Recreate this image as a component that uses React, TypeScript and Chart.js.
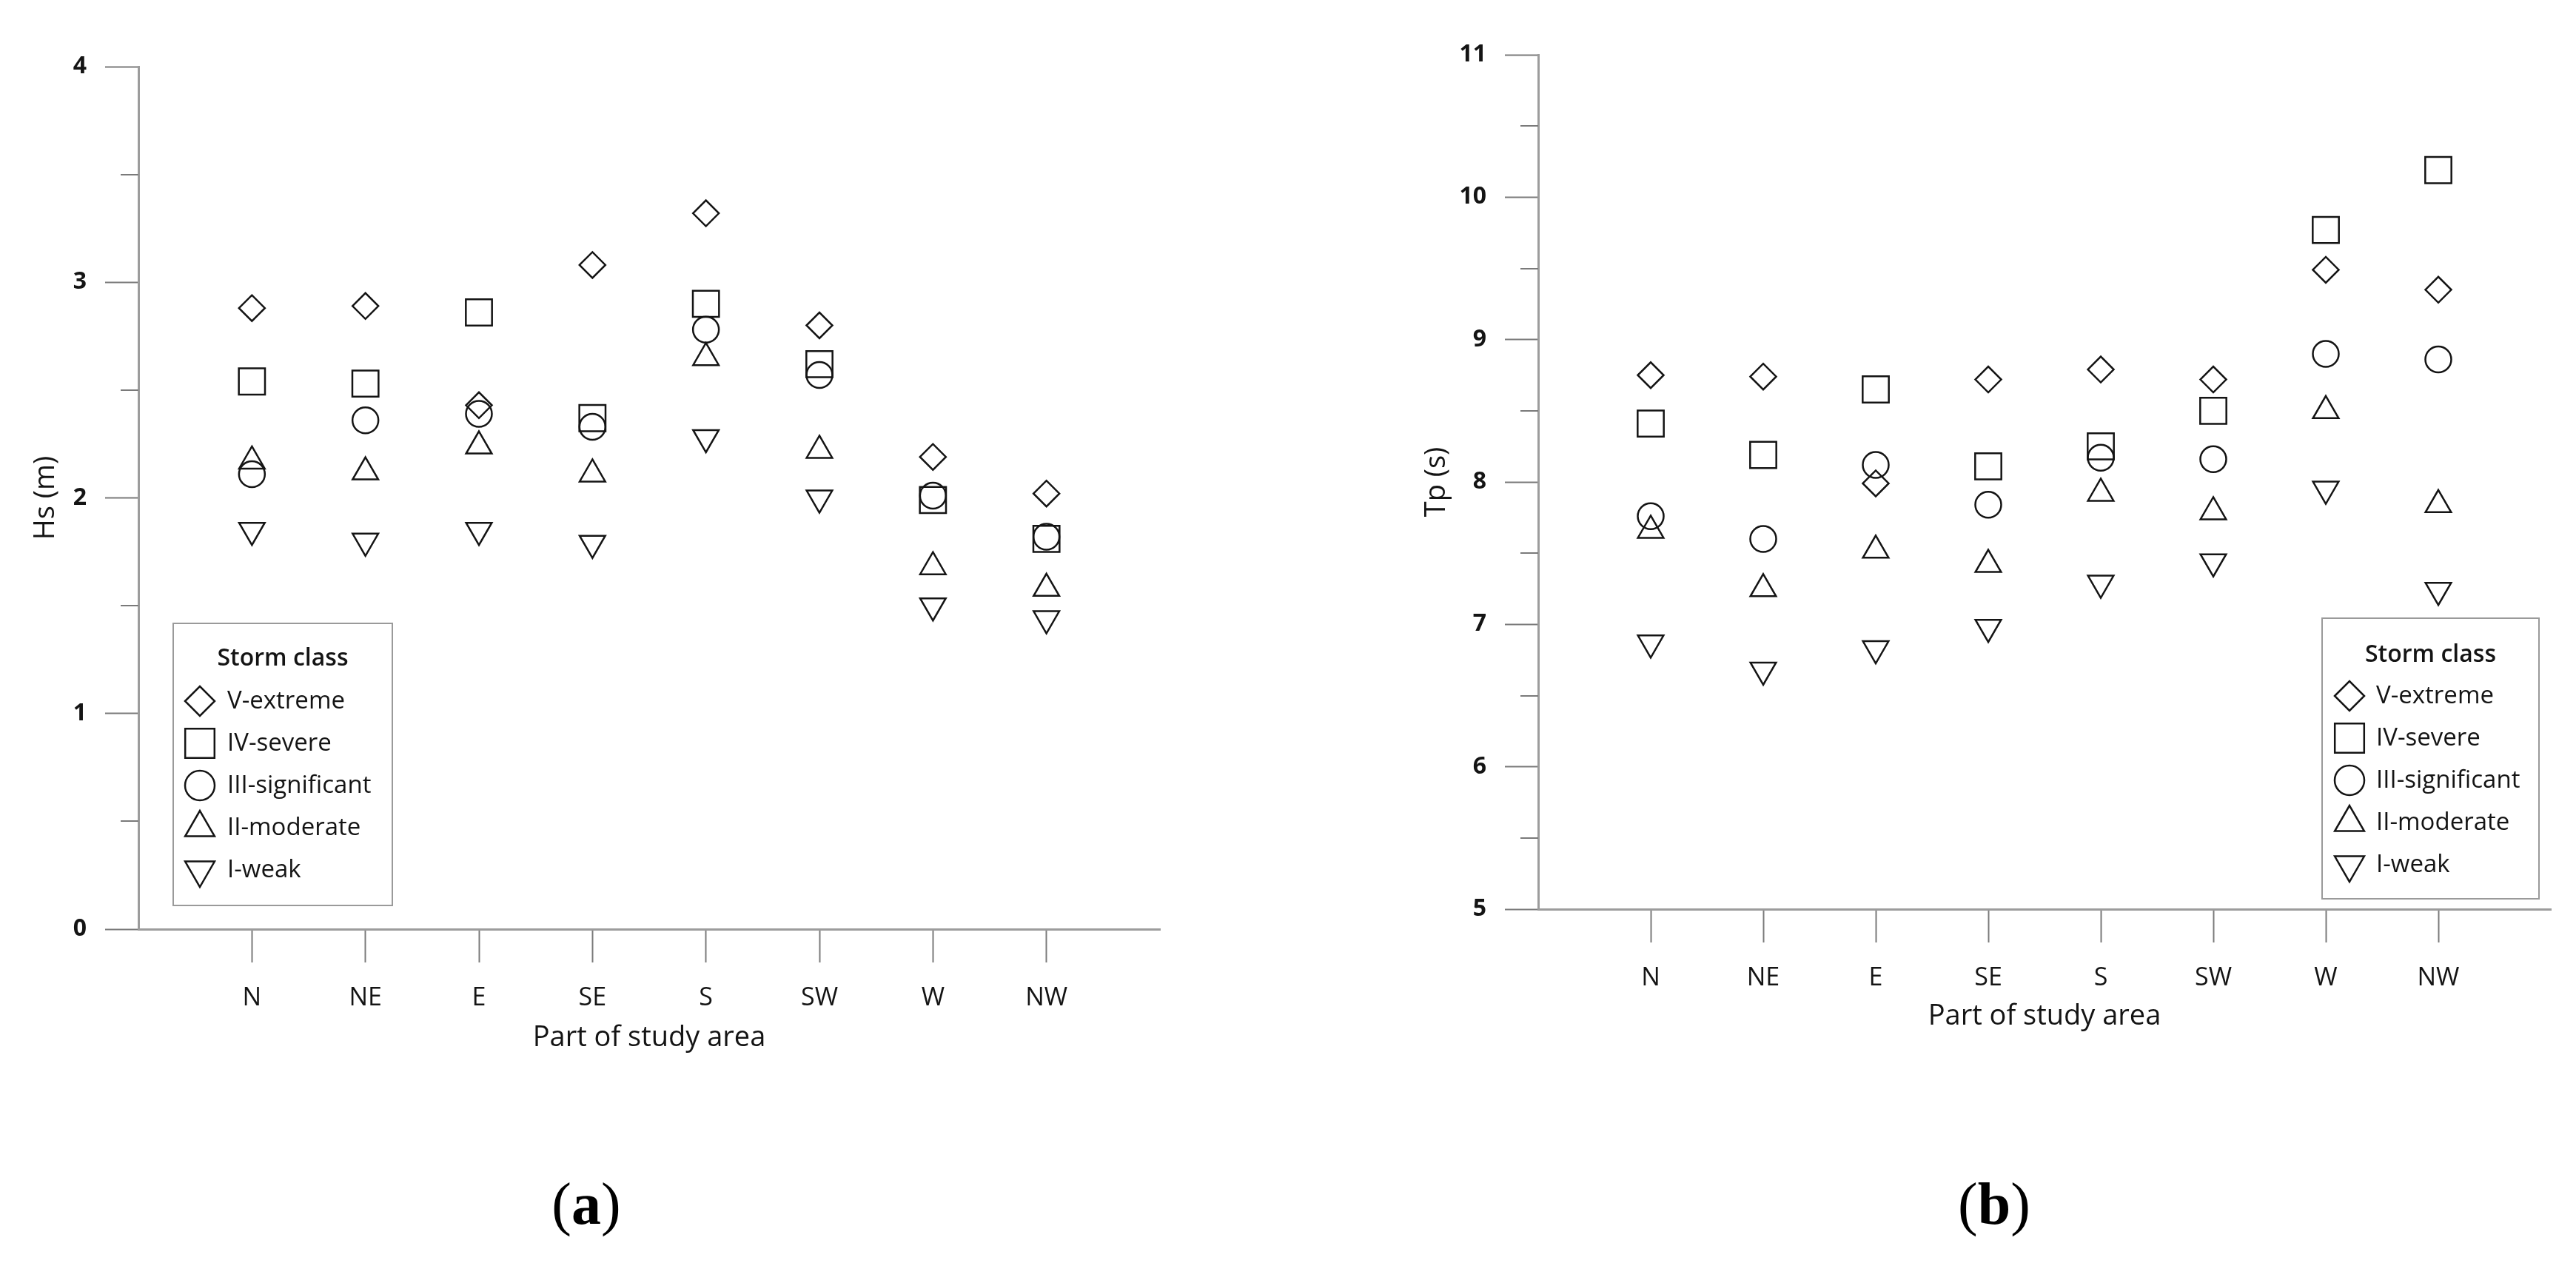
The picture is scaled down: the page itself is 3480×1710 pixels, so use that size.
import React, { useEffect, useRef } from 'react';
import { Chart, registerables } from 'chart.js';
import { drawPoint } from 'chart.js/helpers';

Chart.register(...registerables);

// ---------------- data ----------------
const categories = ['N', 'NE', 'E', 'SE', 'S', 'SW', 'W', 'NW'];
const seriesNames = ['V-extreme', 'IV-severe', 'III-significant', 'II-moderate', 'I-weak'];

// (a) Hs (m)
const hsExtreme = [2.88, 2.89, 2.43, 3.08, 3.32, 2.80, 2.19, 2.02];
const hsSevere = [2.54, 2.53, 2.86, 2.37, 2.90, 2.62, 1.99, 1.81];
const hsSignificant = [2.11, 2.36, 2.39, 2.33, 2.78, 2.57, 2.01, 1.82];
const hsModerate = [2.17, 2.12, 2.24, 2.11, 2.65, 2.22, 1.68, 1.58];
const hsWeak = [1.85, 1.80, 1.85, 1.79, 2.28, 2.00, 1.50, 1.44];

// (b) Tp (s)
const tpExtreme = [8.75, 8.74, 7.99, 8.72, 8.79, 8.72, 9.49, 9.35];
const tpSevere = [8.41, 8.19, 8.65, 8.11, 8.25, 8.50, 9.77, 10.19];
const tpSignificant = [7.76, 7.60, 8.12, 7.84, 8.17, 8.16, 8.90, 8.86];
const tpModerate = [7.66, 7.25, 7.52, 7.42, 7.92, 7.79, 8.50, 7.84];
const tpWeak = [6.87, 6.68, 6.83, 6.98, 7.29, 7.44, 7.95, 7.24];

// ---------------- styles ----------------
const FONT = '"Open Sans", "Noto Sans", Lato, sans-serif';
const INK = '#141414';
const AXIS = '#9c9c9c';
const TICK = '#7a7a7a';

const pointStyles = ['rectRot', 'rect', 'circle', 'triangle', 'triangle'];
const pointRotations = [0, 0, 0, 0, 180];
const plotRadii = [17.5, 25, 17.5, 20, 20];
const legendRadii = [20, 28, 20, 23, 23];

const stormLegend = {
  id: 'stormLegend',
  afterDraw(chart: any, _args: any, opts: any) {
    const { ctx, chartArea } = chart;
    const bx = opts.side === 'left' ? chartArea.left + opts.dx : chartArea.right - opts.dx - opts.w;
    const by = chartArea.bottom - opts.dy - opts.h;
    ctx.save();
    ctx.fillStyle = '#ffffff';
    ctx.fillRect(bx, by, opts.w, opts.h);
    ctx.strokeStyle = '#9a9a9a';
    ctx.lineWidth = 2;
    ctx.strokeRect(bx, by, opts.w, opts.h);
    ctx.fillStyle = INK;
    ctx.textBaseline = 'middle';
    ctx.textAlign = 'center';
    ctx.font = `600 32px ${FONT}`;
    ctx.fillText('Storm class', bx + opts.w / 2, by + opts.titleY);
    ctx.textAlign = 'left';
    ctx.font = `500 33px ${FONT}`;
    chart.data.datasets.forEach((ds: any, i: number) => {
      const y = by + opts.firstY + i * opts.stepY;
      ctx.save();
      ctx.strokeStyle = INK;
      ctx.fillStyle = 'rgba(0,0,0,0)';
      ctx.lineWidth = 2.5;
      drawPoint(ctx, { pointStyle: ds.pointStyle, rotation: ds.pointRotation || 0, radius: legendRadii[i], borderWidth: 2.5 } as any, bx + opts.markerX, y);
      ctx.restore();
      ctx.fillStyle = INK;
      ctx.fillText(ds.label, bx + opts.textX, y + 1);
    });
    ctx.restore();
  },
};

const minorTicks = {
  id: 'minorTicks',
  afterDraw(chart: any, _args: any, opts: any) {
    const { ctx, chartArea } = chart;
    const ys = chart.scales.y;
    ctx.save();
    ctx.strokeStyle = TICK;
    ctx.lineWidth = 2;
    for (let v = ys.min + opts.step / 2; v < ys.max; v += opts.step) {
      const py = Math.round(ys.getPixelForValue(v));
      ctx.beginPath();
      ctx.moveTo(chartArea.left - opts.length, py);
      ctx.lineTo(chartArea.left, py);
      ctx.stroke();
    }
    ctx.restore();
  },
};

function buildDatasets(series: number[][]) {
  return series.map((vals, i) => ({
    label: seriesNames[i],
    data: vals.map((v, k) => ({ x: k, y: v })),
    showLine: false,
    pointStyle: pointStyles[i],
    pointRotation: pointRotations[i],
    pointRadius: plotRadii[i],
    pointHoverRadius: plotRadii[i],
    pointBorderWidth: 2.5,
    pointBorderColor: INK,
    pointBackgroundColor: 'rgba(0,0,0,0)',
  }));
}

type Cfg = {
  series: number[][];
  yMin: number;
  yMax: number;
  yTitle: string;
  padding: { left: number; right: number; top: number; bottom: number };
  yWidth: number;
  yTitlePad: number;
  xHeight: number;
  legend: any;
};

const TITLE_SIZE = 38;

function ScatterPanel({ cfg, left }: { cfg: Cfg; left: number }) {
  const ref = useRef<HTMLCanvasElement | null>(null);
  useEffect(() => {
    if (!ref.current) return;
    const chart = new Chart(ref.current, {
      type: 'scatter',
      data: { datasets: buildDatasets(cfg.series) as any },
      plugins: [stormLegend, minorTicks],
      options: {
        animation: false,
        responsive: false,
        devicePixelRatio: 1,
        events: [],
        layout: { padding: cfg.padding },
        plugins: {
          legend: { display: false },
          tooltip: { enabled: false },
          stormLegend: cfg.legend,
          minorTicks: { step: 1, length: 24 },
        } as any,
        scales: {
          x: {
            type: 'linear',
            min: -1,
            max: 8,
            afterFit: (s: any) => { s.height = cfg.xHeight; },
            ticks: {
              stepSize: 1,
              autoSkip: false,
              maxRotation: 0,
              padding: 28,
              color: INK,
              font: { family: FONT, size: 34, weight: '500' },
              callback: (v: any) => (Number.isInteger(v) && v >= 0 && v < categories.length ? categories[v] : ''),
            },
            grid: {
              drawOnChartArea: false,
              drawTicks: true,
              tickLength: 45,
              tickWidth: 2,
              tickColor: (c: any) => (c.tick && c.tick.value >= 0 && c.tick.value < categories.length ? TICK : 'rgba(0,0,0,0)'),
            },
            border: { display: true, color: AXIS, width: 3 },
            title: {
              display: true,
              text: 'Part of study area',
              color: INK,
              font: { family: FONT, size: TITLE_SIZE, weight: '500' },
              padding: { top: 0, bottom: 0 },
            },
          },
          y: {
            type: 'linear',
            min: cfg.yMin,
            max: cfg.yMax,
            afterFit: (s: any) => { s.width = cfg.yWidth; },
            ticks: {
              stepSize: 1,
              padding: 25,
              color: INK,
              font: { family: FONT, size: 32, weight: 'bold' },
            },
            grid: {
              drawOnChartArea: false,
              drawTicks: true,
              tickLength: 45,
              tickWidth: 2,
              tickColor: TICK,
            },
            border: { display: true, color: AXIS, width: 3 },
            title: {
              display: true,
              text: cfg.yTitle,
              color: INK,
              font: { family: FONT, size: TITLE_SIZE, weight: '500' },
              padding: { top: cfg.yTitlePad, bottom: 0 },
            },
          },
        },
      } as any,
    });
    return () => chart.destroy();
  }, [cfg]);
  return (
    <canvas
      ref={ref}
      width={1740}
      height={1450}
      style={{ position: 'absolute', left, top: 0, width: 1740, height: 1450 }}
    />
  );
}

// title line height = 38 * 1.2 = 45.6, half = 22.8
const cfgA: Cfg = {
  series: [hsExtreme, hsSevere, hsSignificant, hsModerate, hsWeak],
  yMin: 0,
  yMax: 4,
  yTitle: 'Hs (m)',
  padding: { left: 20, right: 173, top: 90, bottom: 25.2 },
  yWidth: 167,
  yTitlePad: 19.2,
  xHeight: 169.8,
  legend: { side: 'left', dx: 47, dy: 32, w: 296, h: 381, titleY: 48, firstY: 105, stepY: 57, markerX: 36, textX: 73 },
};

const cfgB: Cfg = {
  series: [tpExtreme, tpSevere, tpSignificant, tpModerate, tpWeak],
  yMin: 5,
  yMax: 11,
  yTitle: 'Tp (s)',
  padding: { left: 150, right: 34, top: 74, bottom: 54.2 },
  yWidth: 188,
  yTitlePad: 28.2,
  xHeight: 167.8,
  legend: { side: 'right', dx: 16, dy: 14, w: 293, h: 379, titleY: 50, firstY: 105, stepY: 57, markerX: 37, textX: 73 },
};

const captionStyle: React.CSSProperties = {
  position: 'absolute',
  top: 1586,
  width: 400,
  textAlign: 'center',
  fontFamily: '"Liberation Serif", "Times New Roman", serif',
  fontSize: 80,
  lineHeight: '80px',
  color: '#000',
};

export default function App() {
  return (
    <div style={{ position: 'absolute', left: 0, top: 0, width: 3480, height: 1710, background: '#fff', overflow: 'hidden' }}>
      <ScatterPanel cfg={cfgA} left={0} />
      <ScatterPanel cfg={cfgB} left={1740} />
      <div style={{ ...captionStyle, left: 792 - 200 }}>(<b>a</b>)</div>
      <div style={{ ...captionStyle, left: 2694 - 200 }}>(<b>b</b>)</div>
    </div>
  );
}
